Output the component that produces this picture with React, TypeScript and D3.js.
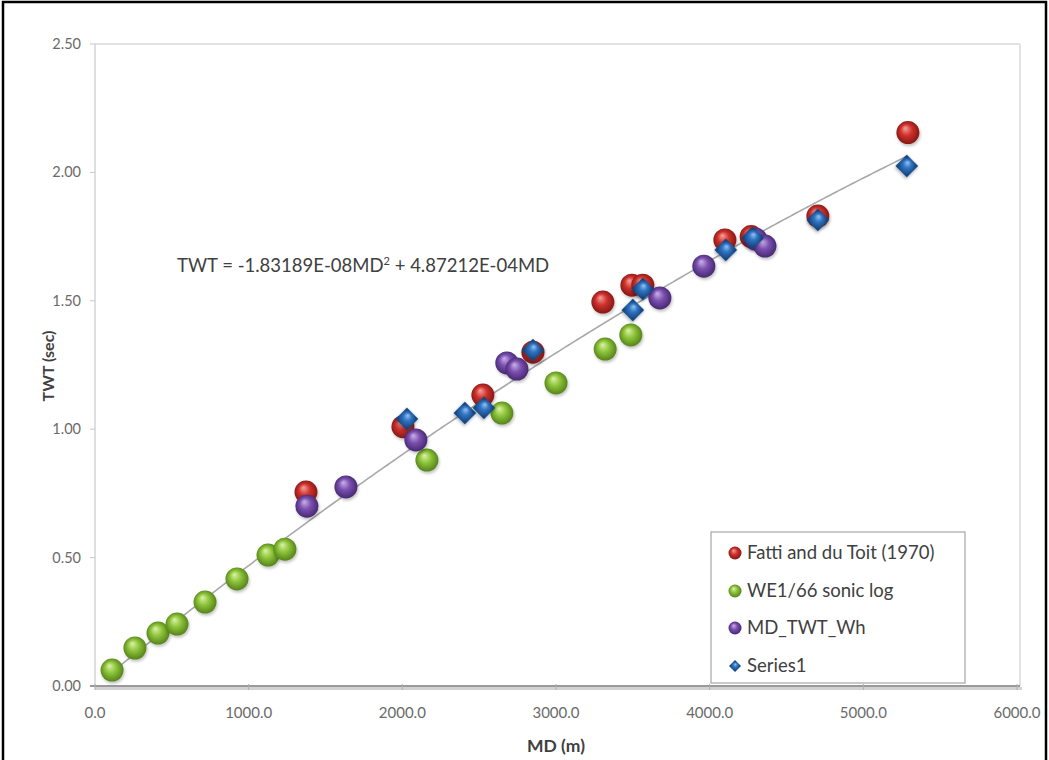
import React from "react";
import * as d3 from "d3";

// ---- data (MD in metres, TWT in seconds) ----
const fattiMD = [1373, 2004, 2524, 2850, 3305, 3494, 3565, 4099, 4270, 4704, 5290];
const fattiTWT = [0.755, 1.01, 1.133, 1.3, 1.495, 1.561, 1.561, 1.737, 1.75, 1.83, 2.155];

const sonicMD = [111, 260, 410, 534, 716, 924, 1126, 1236, 2160, 2648, 3000, 3320, 3487];
const sonicTWT = [0.062, 0.148, 0.206, 0.241, 0.327, 0.417, 0.51, 0.533, 0.88, 1.063, 1.18, 1.312, 1.367];

const whMD = [1379, 1633, 2088, 2680, 2746, 3676, 3962, 4300, 4360];
const whTWT = [0.7, 0.775, 0.958, 1.258, 1.234, 1.511, 1.635, 1.74, 1.713];

const series1MD = [2030, 2407, 2531, 2850, 3500, 3565, 4105, 4280, 4704, 5283];
const series1TWT = [1.04, 1.063, 1.083, 1.308, 1.464, 1.546, 1.698, 1.745, 1.815, 2.025];

const xTicks = [0, 1000, 2000, 3000, 4000, 5000, 6000];
const yTicks = [0, 0.5, 1.0, 1.5, 2.0, 2.5];

const trendA = -1.83189e-8;
const trendB = 4.87212e-4;
const trendRange = [100, 5283];

const legendLabels = ["Fatti and du Toit (1970)", "WE1/66 sonic log", "MD_TWT_Wh", "Series1"];

// ---- layout ----
const W = 1049;
const H = 760;
const left = 95;
const right = 1020;
const top = 44;
const bottom = 686;

const FONT = "Lato, 'Open Sans', sans-serif";

const x = d3.scaleLinear().domain([0, 6000]).range([left, right - 3]);
const y = d3.scaleLinear().domain([0, 2.5]).range([bottom, top]);

const sphere = [
  { id: "gRed", hi: "#f4a39a", mid: "#d0312d", dark: "#7a1512" },
  { id: "gGreen", hi: "#dff2a8", mid: "#8cc43a", dark: "#4f7a16" },
  { id: "gPurple", hi: "#c9b3e6", mid: "#7b4fb0", dark: "#3f2468" },
  { id: "gBlue", hi: "#9cc6f0", mid: "#2f75c5", dark: "#17457e" },
];

function zip(a: number[], b: number[]) {
  return a.map((v, i) => [v, b[i]] as [number, number]);
}

export default function App() {
  const R = 11.5;
  const trendPts = d3
    .range(trendRange[0], trendRange[1] + 1, 20)
    .concat([trendRange[1]])
    .map((m) => [m, trendA * m * m + trendB * m] as [number, number]);
  const trendLine = d3
    .line<[number, number]>()
    .x((d) => x(d[0]))
    .y((d) => y(d[1]))(trendPts);

  const diamond = d3.symbol(d3.symbolSquare, 262)();
  const legendDiamond = d3.symbol(d3.symbolSquare, 72)();

  const circleSeries = [
    { pts: zip(fattiMD, fattiTWT), g: "gRed" },
    { pts: zip(sonicMD, sonicTWT), g: "gGreen" },
    { pts: zip(whMD, whTWT), g: "gPurple" },
  ];

  const legX = 711;
  const legY = 532;
  const legRows = [553, 591, 628, 666];

  return (
    <svg width={W} height={H} style={{ display: "block", position: "absolute", left: 0, top: 0 }}>
      <defs>
        {sphere.map((s) => (
          <radialGradient key={s.id} id={s.id} cx="50%" cy="50%" r="55%" fx="38%" fy="30%">
            <stop offset="0%" stopColor={s.hi} />
            <stop offset="45%" stopColor={s.mid} />
            <stop offset="100%" stopColor={s.dark} />
          </radialGradient>
        ))}
        <filter id="soft" x="-30%" y="-30%" width="160%" height="160%">
          <feGaussianBlur in="SourceAlpha" stdDeviation="1.5" />
          <feOffset dx="0.5" dy="1.5" result="ob" />
          <feComponentTransfer>
            <feFuncA type="linear" slope="0.25" />
          </feComponentTransfer>
          <feMerge>
            <feMergeNode />
            <feMergeNode in="SourceGraphic" />
          </feMerge>
        </filter>
      </defs>
      <rect x={0} y={0} width={W} height={H} fill="#ffffff" />
      {/* outer black frame */}
      <path d={`M3,${H + 5} L3,2 L1046,2 L1046,${H + 5}`} fill="none" stroke="#000" strokeWidth={2.5} />

      {/* plot area frame */}
      <line x1={left} x2={right} y1={top} y2={top} stroke="#d9d9d9" strokeWidth={1.5} />
      <line x1={right} x2={right} y1={top} y2={bottom} stroke="#d9d9d9" strokeWidth={1.5} />
      <line x1={left} x2={left} y1={top} y2={bottom} stroke="#d4d4d4" strokeWidth={1.5} />

      {/* y ticks */}
      {yTicks.map((t) => (
        <g key={t}>
          <line x1={left - 5} x2={left} y1={y(t)} y2={y(t)} stroke="#c8c8c8" strokeWidth={1} />
          <text x={81} y={y(t) + 5} textAnchor="end" fontFamily={FONT} fontSize={14.5} fill="#6a6a6a">
            {t.toFixed(2)}
          </text>
        </g>
      ))}

      {/* x axis with shadow */}
      <line x1={left} x2={right + 2} y1={bottom + 2.5} y2={bottom + 2.5} stroke="#d2d2d2" strokeWidth={3} />
      <line x1={left - 5} x2={right} y1={bottom} y2={bottom} stroke="#9a9a9a" strokeWidth={2} />
      {xTicks.map((t) => (
        <g key={t}>
          <line x1={x(t)} x2={x(t)} y1={bottom - 2} y2={bottom + 4} stroke="#b0b0b0" strokeWidth={1} />
          <text x={x(t)} y={bottom + 32} textAnchor="middle" fontFamily={FONT} fontSize={15} fill="#6a6a6a">
            {t.toFixed(1)}
          </text>
        </g>
      ))}

      {/* axis titles */}
      <text x={556} y={752} textAnchor="middle" fontFamily={FONT} fontSize={17.5} fontWeight="bold" fill="#404040">
        MD (m)
      </text>
      <text
        transform={`translate(54,366) rotate(-90)`}
        textAnchor="middle"
        fontFamily={FONT}
        fontSize={16}
        fontWeight="bold"
        fill="#404040"
      >
        TWT (sec)
      </text>

      {/* trendline */}
      <path d={trendLine || ""} fill="none" stroke="#a8a8a8" strokeWidth={1.6} />

      {/* circle series */}
      {circleSeries.map((s) =>
        s.pts.map((p, i) => (
          <circle
            key={s.g + i}
            cx={x(p[0])}
            cy={y(p[1])}
            r={R}
            fill={`url(#${s.g})`}
            filter="url(#soft)"
          />
        ))
      )}
      {/* Series1 diamonds */}
      {zip(series1MD, series1TWT).map((p, i) => (
        <path
          key={"d" + i}
          d={diamond || ""}
          transform={`translate(${x(p[0])},${y(p[1])}) rotate(45)`}
          fill="url(#gBlue)"
          filter="url(#soft)"
        />
      ))}

      {/* equation */}
      <text x={177} y={272} fontFamily={FONT} fontSize={18.5} fill="#404040">
        TWT = -1.83189E-08MD
        <tspan dy={-7} fontSize={11}>2</tspan>
        <tspan dy={7}> + 4.87212E-04MD</tspan>
      </text>

      {/* legend */}
      <rect x={legX} y={legY} width={254} height={151} fill="#ffffff" stroke="#a6a6a6" strokeWidth={1.2} />
      {legendLabels.map((lab, i) => (
        <g key={lab}>
          {i < 3 ? (
            <circle cx={735} cy={legRows[i]} r={6.5} fill={`url(#${sphere[i].id})`} />
          ) : (
            <path d={legendDiamond || ""} transform={`translate(735,${legRows[i]}) rotate(45)`} fill="url(#gBlue)" />
          )}
          <text x={747} y={legRows[i] + 6} fontFamily={FONT} fontSize={18.5} fill="#404040">
            {lab}
          </text>
        </g>
      ))}
    </svg>
  );
}
